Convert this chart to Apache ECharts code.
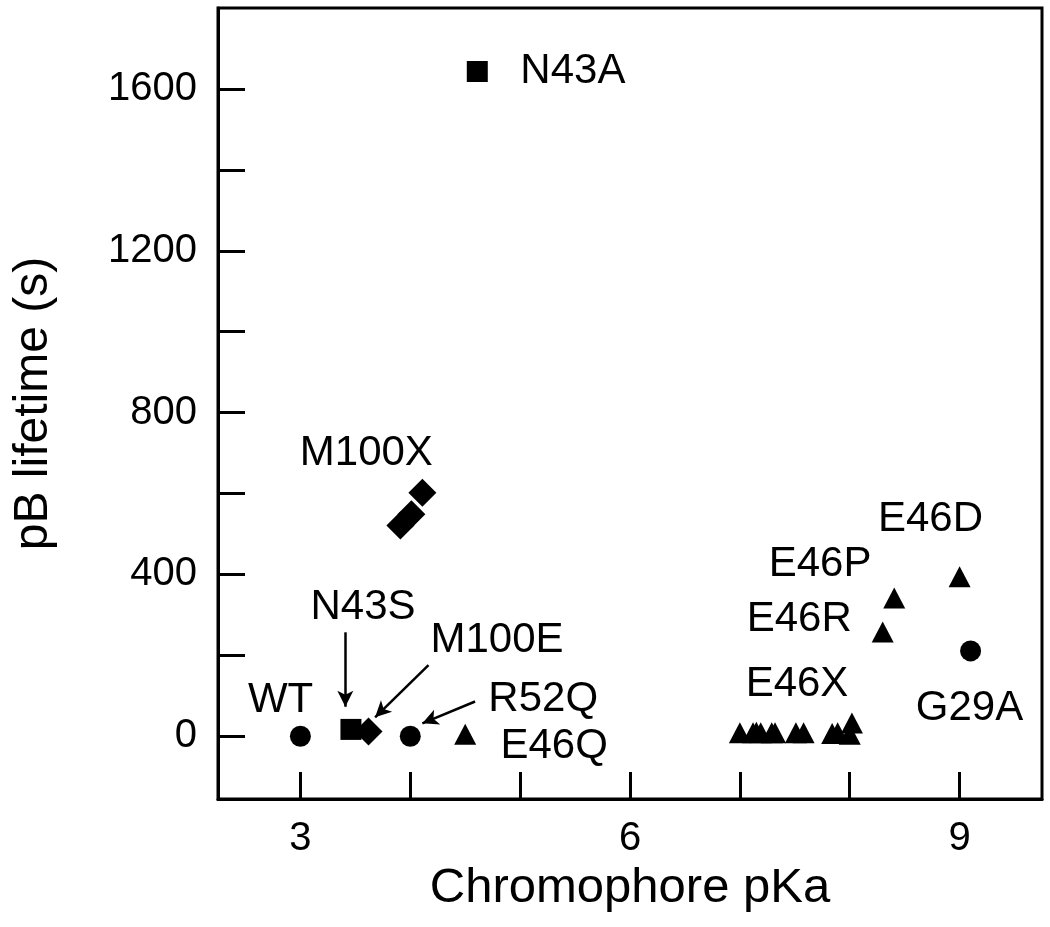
<!DOCTYPE html>
<html>
<head>
<meta charset="utf-8">
<script src="https://cdn.jsdelivr.net/npm/echarts@6/dist/echarts.min.js"></script>
<style>
  html, body { margin: 0; padding: 0; background: #fff; }
  #chart { width: 1050px; height: 927px; }
</style>
</head>
<body>
<div id="chart"></div>
<script>
// ---- data ----
const circlePts   = [[3.0, 0], [4.0, 0], [9.1, 211]];          // WT, R52Q, G29A
const squarePts   = [[3.46, 17], [4.61, 1643]];                 // N43S, N43A
const diamondPts  = [[3.62, 12], [3.91, 521], [4.01, 549], [4.11, 602]]; // M100E, M100X
const trianglePts = [[4.5, 5], [7.0, 9], [7.12, 9], [7.15, 10], [7.19, 9],
                     [7.29, 9], [7.32, 9], [7.51, 9], [7.58, 9], [7.84, 7],
                     [7.89, 9], [8.0, 5], [8.02, 33], [8.30, 258], [8.405, 342], [9.0, 394]];

const labelNames = ['N43A', 'M100X', 'N43S', 'M100E', 'WT', 'R52Q', 'E46Q',
                    'E46D', 'E46P', 'E46R', 'E46X', 'G29A'];
const labelPos   = [[5.48, 1643], [3.6, 698], [3.57, 319], [4.79, 238], [2.82, 88],
                    [5.21, 92], [5.31, -24], [8.735, 535], [7.73, 426], [7.54, 290],
                    [7.52, 128], [9.09, 68]];

const arrows = [ // [from, to]
  [[3.409, 257], [3.409, 73]],   // N43S
  [[4.166, 176], [3.68, 47]],    // M100E
  [[4.59, 86],   [4.11, 32]]     // R52Q
];

const xTicks  = [3, 4, 5, 6, 7, 8, 9];
const xLabels = [3, 6, 9];
const yTicks  = [0, 200, 400, 600, 800, 1000, 1200, 1400, 1600];
const yLabels = [0, 400, 800, 1200, 1600];

const FONT = '"Liberation Sans", Arial, Helvetica, sans-serif';

const chart = echarts.init(document.getElementById('chart'), null, { renderer: 'canvas' });

function pts(arr, symbol, size, name) {
  return {
    type: 'scatter', name: name, symbol: symbol, symbolSize: size,
    data: arr, itemStyle: { color: '#000', opacity: 1 }, silent: true,
    emphasis: { disabled: true }, z: 3
  };
}

chart.setOption({
  animation: false,
  backgroundColor: '#fff',
  grid: { left: 218, right: 8, top: 8, bottom: 128, show: true,
          borderColor: '#000', borderWidth: 3, backgroundColor: 'transparent' },
  xAxis: {
    type: 'value', min: 2.25, max: 9.75,
    name: 'Chromophore pKa', nameLocation: 'middle', nameGap: 62,
    nameTextStyle: { fontFamily: FONT, fontSize: 49, color: '#000' },
    axisLine: { show: true, onZero: false, lineStyle: { color: '#000', width: 3 } },
    axisTick: { show: true, inside: true, length: 27, customValues: xTicks,
                lineStyle: { color: '#000', width: 3 } },
    axisLabel: { show: true, customValues: xLabels, margin: 20,
                 formatter: v => String(v),
                 fontFamily: FONT, fontSize: 40, color: '#000' },
    splitLine: { show: false }
  },
  yAxis: {
    type: 'value', min: -155, max: 1800,
    name: 'pB lifetime (s)', nameLocation: 'middle', nameGap: 160,
    nameTextStyle: { fontFamily: FONT, fontSize: 48, color: '#000' },
    axisLine: { show: true, onZero: false, lineStyle: { color: '#000', width: 3 } },
    axisTick: { show: true, inside: true, length: 27, customValues: yTicks,
                lineStyle: { color: '#000', width: 3 } },
    axisLabel: { show: true, customValues: yLabels, margin: 21,
                 formatter: v => String(v),
                 fontFamily: FONT, fontSize: 40, color: '#000' },
    splitLine: { show: false }
  },
  series: [
    pts(circlePts, 'circle', 21, 'circles'),
    pts(squarePts, 'rect', 21, 'squares'),
    pts(diamondPts, 'diamond', 28, 'diamonds'),
    pts(trianglePts, 'triangle', [22, 21], 'triangles'),
    {
      type: 'scatter', name: 'labels', symbol: 'circle', symbolSize: 1, silent: true,
      data: labelPos.map((p, i) => ({ value: p, name: labelNames[i] })),
      label: { show: true, position: 'inside', formatter: '{b}', opacity: 1,
               textBorderWidth: 0, textBorderColor: 'transparent',
               fontFamily: FONT, fontSize: 42, color: '#000000' },
      itemStyle: { color: 'rgba(0,0,0,0)' }, z: 4,
      labelLayout: { hideOverlap: false },
      markLine: {
        silent: true, animation: false,
        symbol: ['none', 'arrow'], symbolSize: [12, 16],
        label: { show: false },
        lineStyle: { color: '#000', width: 2.5, type: 'solid' },
        emphasis: { disabled: true },
        data: arrows.map(a => [{ coord: a[0] }, { coord: a[1] }])
      }
    }
  ]
});
</script>
</body>
</html>
